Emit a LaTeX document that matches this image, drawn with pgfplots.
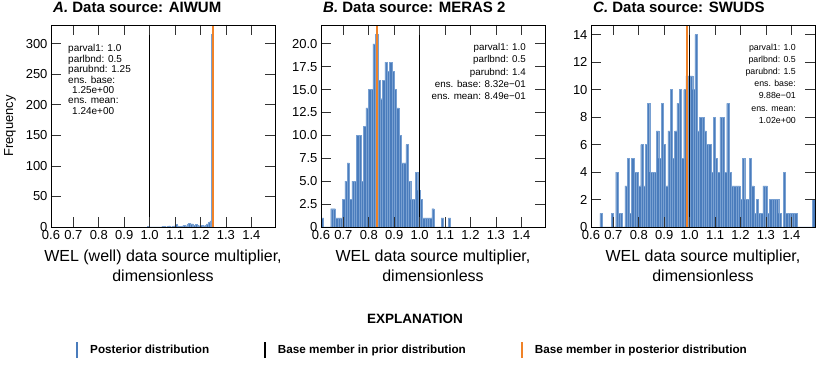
\documentclass[border=0pt]{standalone}
\usepackage{pgfplots}
\pgfplotsset{compat=1.18}
\usepackage{fontspec}
\setmainfont{Liberation Sans}

\definecolor{barblue}{RGB}{74,124,188}
\definecolor{baredge}{RGB}{120,160,210}
\definecolor{baseorange}{RGB}{240,130,40}

\pgfplotsset{
  panel/.style={
    scale only axis, width=224pt, height=202pt,
    xmin=0.612, xmax=1.493, ymin=0,
    xtick={0.612,0.7,0.8,0.9,1.0,1.1,1.2,1.3,1.4},
    xticklabels={0.6,0.7,0.8,0.9,1.0,1.1,1.2,1.3,1.4},
    tick pos=both, tick align=inside,
    major tick length=10pt,
    tick style={black!80, line width=0.8pt},
    axis line style={line width=0.8pt},
    axis on top,
    tick label style={font=\fontsize{13}{13}\selectfont},
    /pgf/number format/assume math mode=true,
    xlabel style={font=\fontsize{16}{20}\selectfont, align=center,
      at={(axis description cs:0.5,0)}, anchor=north, yshift=-23pt, inner sep=0pt},
    title style={font=\bfseries\fontsize{15}{15}\selectfont,
      at={(axis description cs:0,1)}, anchor=base west, xshift=2pt, yshift=6pt, inner sep=0pt},
  },
  bars/.style={ybar interval, fill=barblue, draw=baredge, line width=0.25pt},
}
\tikzset{note/.style={inner sep=0pt}, tk/.style={black!80, line width=0.8pt}}

% inward tick marks, all in axis units: #1 ymax, #2 tick length, #3 ymax minus length
\newcommand{\xticksin}[3]{%
  \pgfplotsinvokeforeach{0.7,0.8,0.9,1.0,1.1,1.2,1.3,1.4}{%
    \draw[tk] (axis cs:##1,0) -- (axis cs:##1,#2);
    \draw[tk] (axis cs:##1,#1) -- (axis cs:##1,#3);}}
\newcommand{\yticksin}[1]{%
  \pgfplotsinvokeforeach{#1}{%
    \draw[tk] (axis cs:0.612,##1) -- (axis cs:0.6513,##1);
    \draw[tk] (axis cs:1.493,##1) -- (axis cs:1.4537,##1);}}

\begin{document}
\begin{tikzpicture}
\path (0,0) rectangle (823pt,369pt);

% A: AIWUM
\begin{axis}[panel, at={(51pt,142pt)}, anchor=south west,
  ymax=330.75, ytick={0,50,...,300},
  title={\textit{A.} Data source: AIWUM},
  xlabel={WEL (well) data source multiplier,\\dimensionless},
  ylabel={Frequency},
  ylabel style={font=\fontsize{13}{13}\selectfont, at={(axis description cs:-0.183,0.5)}, anchor=center}]
\addplot[bars] coordinates {
(0.9900,1) (0.9965,0) (1.0030,0) (1.0095,0) (1.0160,0) (1.0225,0) (1.0290,0) (1.0355,0)
(1.0420,0) (1.0485,1) (1.0550,1) (1.0615,0) (1.0680,1) (1.0745,2) (1.0810,0) (1.0875,1)
(1.0940,2) (1.1005,4) (1.1070,2) (1.1135,1) (1.1200,1) (1.1265,2) (1.1330,3) (1.1395,2)
(1.1460,4) (1.1525,6) (1.1590,5) (1.1655,5) (1.1720,3) (1.1785,4) (1.1850,3) (1.1915,2)
(1.1980,3) (1.2045,3) (1.2110,2) (1.2175,3) (1.2240,5) (1.2305,8) (1.2370,10) (1.2435,315)
(1.2500,0)};
\addplot[black, line width=1.3pt] coordinates {(1.0,0) (1.0,330.75)};
\addplot[baseorange, line width=1.8pt] coordinates {(1.25,0) (1.25,330.75)};
\xticksin{330.75}{16.37}{314.38}
\yticksin{50,100,150,200,250,300}
\node[note, anchor=north west, align=left, font=\fontsize{10}{10.4}\selectfont,
  xshift=17pt, yshift=-19.5pt] at (rel axis cs:0,1)
  {parval1: 1.0\\parlbnd: 0.5\\parubnd: 1.25\\ens. base:\\\hspace*{4pt}1.25e+00\\ens. mean:\\\hspace*{4pt}1.24e+00};
\end{axis}

% B: MERAS 2
\begin{axis}[panel, at={(321pt,142pt)}, anchor=south west,
  ymax=22.05, ytick={0,2.5,...,20},
  yticklabels={0,2.5,5.0,7.5,10.0,12.5,15.0,17.5,20.0},
  title={\textit{B.} Data source: MERAS 2},
  xlabel={WEL data source multiplier,\\dimensionless},
  legend columns=3, legend cell align=left,
  legend style={draw=none, fill=none, inner sep=0pt,
    at={(axis description cs:-1.094,-0.609)}, anchor=west,
    font=\bfseries\fontsize{11.7}{13}\selectfont,
    /tikz/every even column/.append style={column sep=53pt}}]
\addplot[bars, legend image code/.code={
  \draw[barblue, line width=2.2pt] (0pt,-8pt) -- (0pt,8pt);
  \path[draw=none, fill=none] (0pt,0pt) -- (11pt,0pt);}] coordinates {
(0.6130,1) (0.6223,0) (0.6315,0) (0.6408,0) (0.6500,2) (0.6593,2) (0.6685,1) (0.6778,1)
(0.6870,1) (0.6963,3) (0.7055,5) (0.7148,7) (0.7240,3) (0.7333,5) (0.7425,5) (0.7518,10)
(0.7610,10) (0.7703,5) (0.7795,11) (0.7888,13) (0.7980,15) (0.8073,15) (0.8165,20) (0.8258,21)
(0.8350,16) (0.8443,14) (0.8535,16) (0.8628,18) (0.8720,17) (0.8813,18) (0.8905,17) (0.8998,15)
(0.9090,13) (0.9183,10) (0.9275,7) (0.9368,7) (0.9460,9) (0.9553,5) (0.9645,3) (0.9738,3)
(0.9830,6) (0.9923,4) (1.0015,3) (1.0108,1) (1.0200,1) (1.0293,1) (1.0385,1) (1.0478,2)
(1.0570,0) (1.0663,0) (1.0755,0) (1.0848,1) (1.0940,0) (1.1033,0) (1.1125,1) (1.1218,0)};
\addlegendentry{Posterior distribution}
\addplot[black, line width=1.3pt, legend image code/.code={
  \draw[black, line width=1.6pt] (0pt,-8pt) -- (0pt,8pt);
  \path[draw=none, fill=none] (0pt,0pt) -- (11pt,0pt);}] coordinates {(1.0,0) (1.0,22.05)};
\addlegendentry{Base member in prior distribution}
\addplot[baseorange, line width=1.8pt, legend image code/.code={
  \draw[baseorange, line width=2pt] (0pt,-8pt) -- (0pt,8pt);
  \path[draw=none, fill=none] (0pt,0pt) -- (11pt,0pt);}] coordinates {(0.832,0) (0.832,22.05)};
\addlegendentry{Base member in posterior distribution}
\xticksin{22.05}{1.0916}{20.958}
\yticksin{2.5,5,7.5,10,12.5,15,17.5,20}
\node[note, anchor=north east, align=right, font=\fontsize{9.8}{12.4}\selectfont,
  xshift=-19pt, yshift=-18pt] at (rel axis cs:1,1)
  {parval1: 1.0\\parlbnd: 0.5\\parubnd: 1.4\\ens. base: 8.32e−01\\ens. mean: 8.49e−01};
\end{axis}

% C: SWUDS
\begin{axis}[panel, at={(591pt,142pt)}, anchor=south west,
  ymax=14.7, ytick={0,2,...,14},
  title={\textit{C.} Data source: SWUDS},
  xlabel={WEL data source multiplier,\\dimensionless}]
\addplot[bars] coordinates {
(0.6470,1) (0.6559,0) (0.6648,0) (0.6737,0) (0.6826,0) (0.6915,1) (0.7004,0) (0.7093,4)
(0.7182,1) (0.7271,1) (0.7360,0) (0.7449,3) (0.7538,5) (0.7627,1) (0.7716,5) (0.7805,4)
(0.7894,4) (0.7983,3) (0.8072,6) (0.8161,3) (0.8250,6) (0.8339,9) (0.8428,4) (0.8517,4)
(0.8606,4) (0.8695,7) (0.8784,5) (0.8873,9) (0.8962,6) (0.9051,3) (0.9140,7) (0.9229,10)
(0.9318,5) (0.9407,7) (0.9496,9) (0.9585,10) (0.9674,5) (0.9763,10) (0.9852,11) (0.9941,11)
(1.0030,11) (1.0119,10) (1.0208,14) (1.0297,7) (1.0386,8) (1.0475,8) (1.0564,7) (1.0653,6)
(1.0742,6) (1.0831,4) (1.0920,8) (1.1009,5) (1.1098,4) (1.1187,8) (1.1276,8) (1.1365,4)
(1.1454,9) (1.1543,4) (1.1632,3) (1.1721,3) (1.1810,3) (1.1899,3) (1.1988,2) (1.2077,5)
(1.2166,2) (1.2255,2) (1.2344,5) (1.2433,3) (1.2522,1) (1.2611,2) (1.2700,1) (1.2789,1)
(1.2878,3) (1.2967,3) (1.3056,1) (1.3145,2) (1.3234,2) (1.3323,2) (1.3412,2) (1.3501,1)
(1.3590,0) (1.3679,4) (1.3768,1) (1.3857,1) (1.3946,1) (1.4035,1) (1.4124,1) (1.4213,0)
(1.4302,0) (1.4391,0) (1.4480,0) (1.4569,0) (1.4658,0) (1.4747,0) (1.4836,2) (1.4925,0)};
\addplot[black, line width=1.3pt] coordinates {(1.0,0) (1.0,14.7)};
\addplot[baseorange, line width=1.8pt] coordinates {(0.988,0) (0.988,14.7)};
\xticksin{14.7}{0.7277}{13.972}
\yticksin{2,4,6,8,10,12,14}
\node[note, anchor=north east, align=right, font=\fontsize{8.8}{12.2}\selectfont,
  xshift=-19pt, yshift=-18.6pt] at (rel axis cs:1,1)
  {parval1: 1.0\\parlbnd: 0.5\\parubnd: 1.5\\ens. base:\\9.88e−01\\ens. mean:\\1.02e+00};
\end{axis}

\node[anchor=base, font=\bfseries\fontsize{13.5}{14}\selectfont] at (415pt,45pt) {EXPLANATION};
\end{tikzpicture}
\end{document}
